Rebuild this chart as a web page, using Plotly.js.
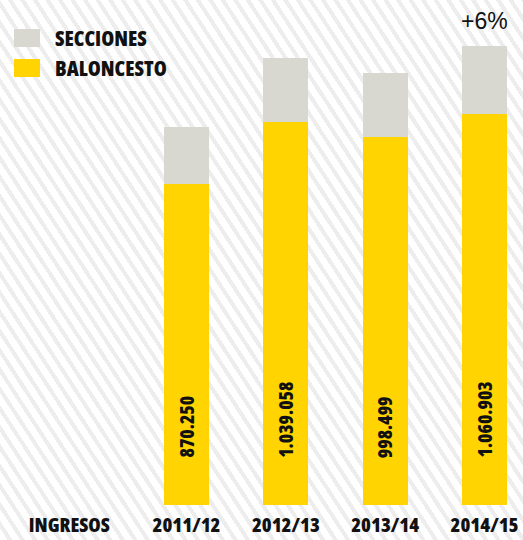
<!DOCTYPE html>
<html>
<head>
<meta charset="utf-8">
<script src="https://cdn.plot.ly/plotly-3.0.1.min.js"></script>
<style>
  html, body { margin: 0; padding: 0; }
  body {
    width: 523px; height: 540px; overflow: hidden;
    background: #ffffff repeating-linear-gradient(57deg, #ffffff 0px, #ffffff 6.5px, #ededed 6.5px, #ededed 10.5px);
  }
  #chart { width: 523px; height: 540px; }
  text { font-stretch: 75%; }
  text.plus { font-stretch: 100%; }
</style>
</head>
<body>
<div id="chart"></div>
<script>
// ---- data ----
const categories = ["2011/12", "2012/13", "2013/14", "2014/15"];
const baloncesto = [870250, 1039058, 998499, 1060903];
const secciones = [154000, 173000, 173000, 182000];
const valueLabels = ["870.250", "1.039.058", "998.499", "1.060.903"];
const seriesNames = ["SECCIONES", "BALONCESTO"];
const axisLabel = "INGRESOS";
const growthLabel = "+6%";

// ---- styling ----
const W = 523, H = 540, MB = 35;
const PH = H - MB;
const YELLOW = "#ffd400", GRAY = "#d8d8d0", INK = "#111111";
const CONDENSED = "'Open Sans', 'DejaVu Sans Condensed', sans-serif";
const py = p => (PH - p) / PH; // pixel from top -> paper y

const idx = categories.map((_, i) => i);
const totals = baloncesto.map((v, i) => v + secciones[i]);

const traces = [
  { type: "bar", x: idx, y: baloncesto, name: seriesNames[1], marker: { color: YELLOW }, width: 0.455, hoverinfo: "skip" },
  { type: "bar", x: idx, y: secciones, name: seriesNames[0], marker: { color: GRAY }, width: 0.455, hoverinfo: "skip" }
];

const annotations = [];
idx.forEach(i => {
  annotations.push({
    x: i, xref: "x", y: py(460), yref: "paper",
    text: valueLabels[i], showarrow: false, textangle: -90,
    xanchor: "center", yanchor: "bottom",
    font: { family: CONDENSED, size: 19, color: INK, weight: 800 }
  });
});
annotations.push({
  x: 3, xref: "x", y: totals[3], yref: "y",
  text: growthLabel, showarrow: false, xanchor: "center", yanchor: "bottom", yshift: 10,
  font: { family: "'Liberation Sans', Arial, sans-serif", size: 23, color: INK }
});
// legend labels
annotations.push({ x: 53 / W, xref: "paper", y: py(38), yref: "paper", text: seriesNames[0], showarrow: false,
  xanchor: "left", yanchor: "middle", font: { family: CONDENSED, size: 21, color: INK, weight: 800 } });
annotations.push({ x: 53 / W, xref: "paper", y: py(68), yref: "paper", text: seriesNames[1], showarrow: false,
  xanchor: "left", yanchor: "middle", font: { family: CONDENSED, size: 21, color: INK, weight: 800 } });

const shapes = [
  { type: "rect", xref: "paper", yref: "paper", x0: 14 / W, x1: 40 / W, y0: py(47), y1: py(29), fillcolor: GRAY, line: { width: 0 } },
  { type: "rect", xref: "paper", yref: "paper", x0: 14 / W, x1: 40 / W, y0: py(77), y1: py(59), fillcolor: YELLOW, line: { width: 0 } }
];

const pxPerCat = 99.33;
const layout = {
  width: W, height: H,
  margin: { l: 0, r: 0, t: 0, b: MB, pad: 0 },
  paper_bgcolor: "rgba(0,0,0,0)", plot_bgcolor: "rgba(0,0,0,0)",
  barmode: "stack", showlegend: false,
  xaxis: {
    range: [-186.5 / pxPerCat, 3 + (W - 484.5) / pxPerCat],
    tickvals: [-1.18].concat(idx), ticktext: [axisLabel].concat(categories),
    showgrid: false, zeroline: false, showline: false, ticks: "",
    ticklabeloverflow: "allow", ticklabelstandoff: 6,
    tickfont: { family: CONDENSED, size: 20, color: INK, weight: 800 },
    fixedrange: true
  },
  yaxis: {
    range: [0, PH / 369e-6], visible: false, showgrid: false, zeroline: false, fixedrange: true
  },
  annotations: annotations,
  shapes: shapes
};

Plotly.newPlot("chart", traces, layout, { displayModeBar: false, staticPlot: true }).then(gd => {
  // keep the "+6%" label in regular width
  gd.querySelectorAll(".annotation-text").forEach(t => {
    if (t.textContent === growthLabel) t.classList.add("plus");
  });
});
</script>
</body>
</html>
